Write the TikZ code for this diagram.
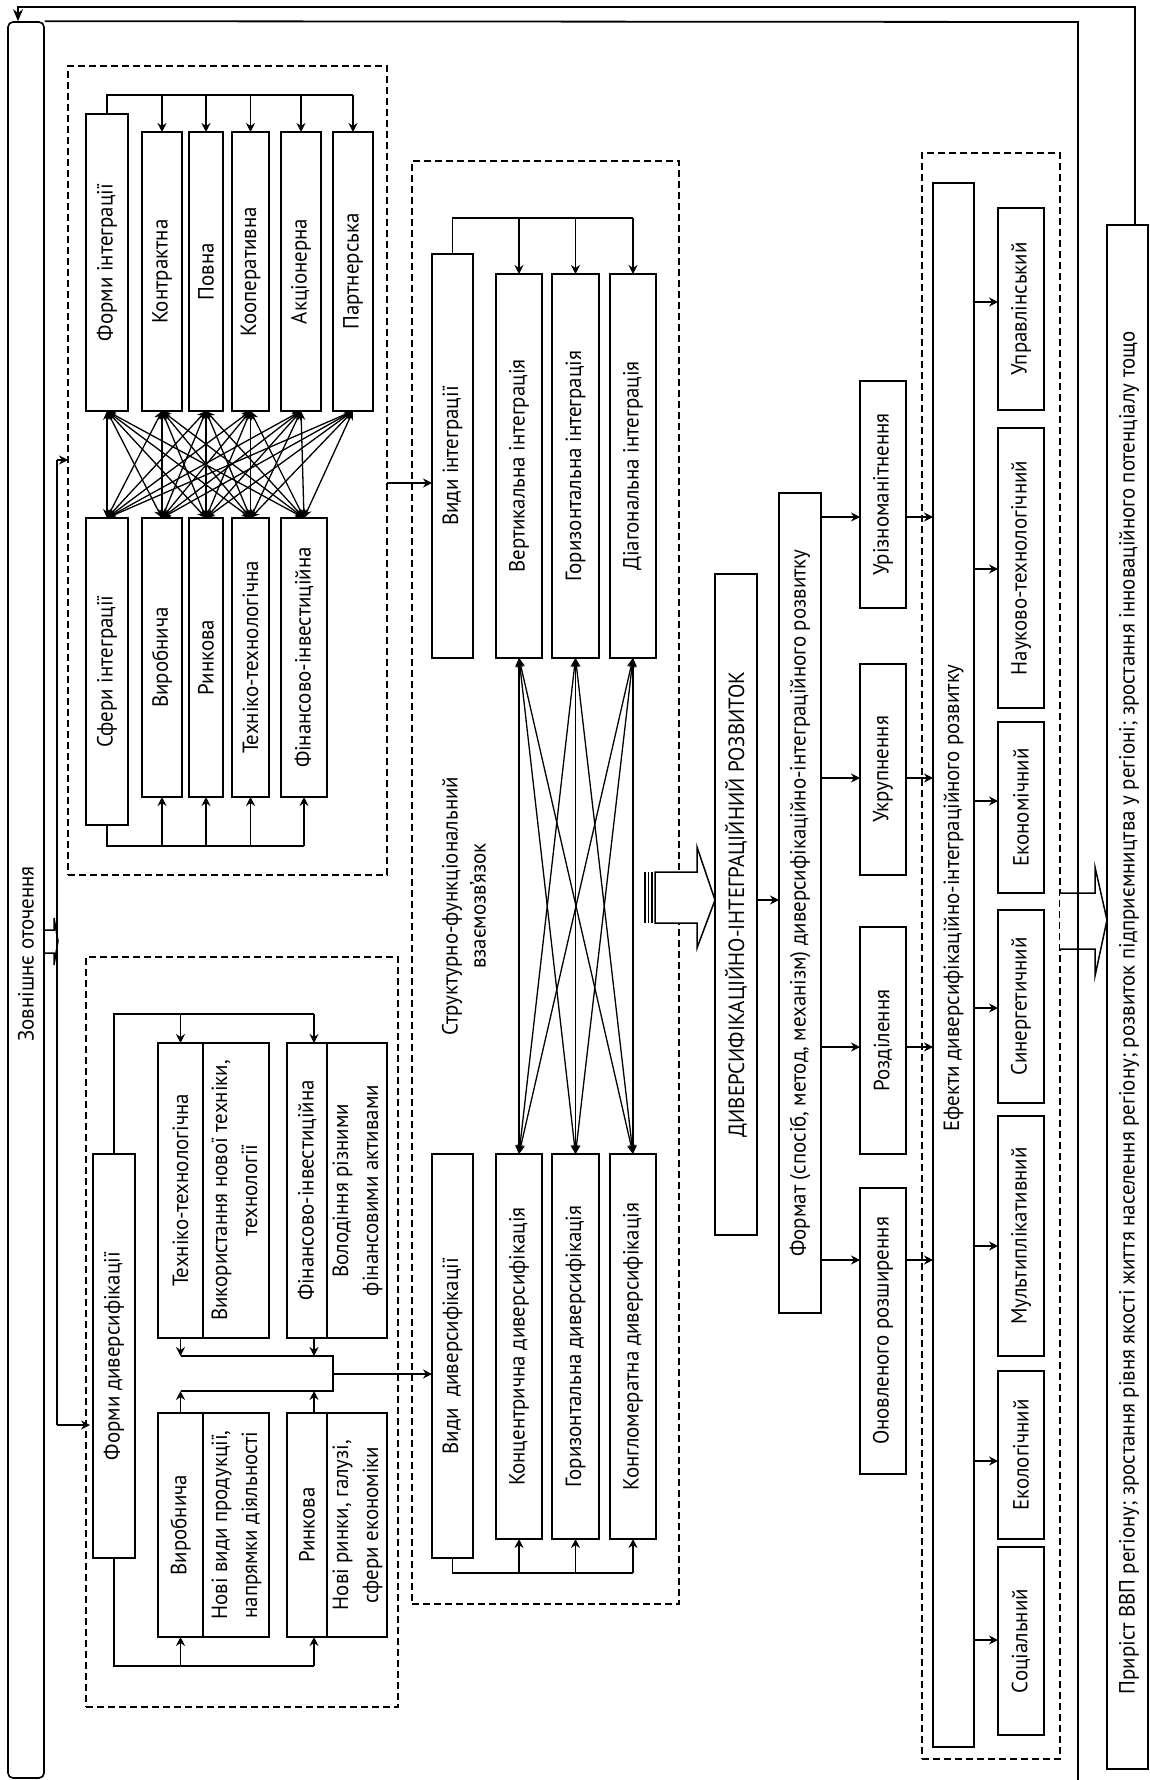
\documentclass[tikz,border=0pt]{standalone}
\usepackage{fontspec}
\setmainfont{PT Sans}[FakeStretch=0.95]
\usetikzlibrary{arrows.meta}
\newcommand{\twol}[2]{\begin{tabular}{@{}c@{}}#1\\#2\end{tabular}}
\newcommand{\mybox}[7][]{\node[box,#1,minimum width={(#5-#3)*1pt},minimum height={(#6-#4)*1pt}] (#2) at ({(#3+#5)/2},{(#4+#6)/2}) {\rotatebox{90}{#7}};}
\begin{document}
\begin{tikzpicture}[x=1pt,y=-1pt,
  font=\fontsize{22}{30}\selectfont,
  box/.style={draw, line width=2.4pt, inner sep=0pt, outer sep=0pt, fill=white},
  dashbox/.style={draw, line width=1.2pt, dash pattern=on 7pt off 4pt, fill=none},
  conn/.style={line width=1.5pt},
  arr/.style={line width=1.5pt, -{Stealth[length=9pt,width=9pt,inset=3pt]}},
  dbl/.style={line width=1.3pt, {Stealth[length=9pt,width=8pt,inset=3pt]}-{Stealth[length=9pt,width=8pt,inset=3pt]}},
  txt/.style={inner sep=0pt}]
\useasboundingbox (0,0) rectangle (1149,1780);

% dashed groups
\mybox[dashbox]{intd}{68}{66}{387}{875}{}
\mybox[dashbox]{divd}{86}{957}{398}{1707}{}
\mybox[dashbox]{sd}{412}{161}{679}{1604}{}
\mybox[dashbox]{ed}{922}{153}{1060}{1759}{}

% outer environment box and frame
\node[draw, line width=1.6pt, rounded corners=5pt, minimum width=36pt, minimum height=1756pt, inner sep=0pt] (zo) at (26,900) {};
\node[txt] (zot) at (26,954) {\rotatebox{90}{Зовнішнє оточення}};
\draw[line width=1.8pt] (zo.north east) -- (1078,22) -- (1078,1782);
\draw[line width=1.5pt] (zo.east |- 0,930) -- (54,930) -- (54,918) -- (58,941) -- (54,965) -- (54,953) -- (zo.east |- 0,953);

% integration group
\mybox{fi}{86}{114}{128}{411}{Форми інтеграції}
\mybox{kon}{142}{132}{182}{411}{Контрактна}
\mybox{pov}{189}{132}{223}{411}{Повна}
\mybox{koop}{232}{132}{269}{411}{Кооперативна}
\mybox{akc}{281}{132}{321}{411}{Акціонерна}
\mybox{par}{333}{132}{373}{411}{Партнерська}
\mybox{sf}{86}{518}{128}{825}{Сфери інтеграції}
\mybox{vy}{142}{518}{182}{797}{Виробнича}
\mybox{ry}{189}{518}{223}{797}{Ринкова}
\mybox{tt}{232}{518}{269}{797}{Техніко-технологічна}
\mybox{fn}{281}{518}{327}{797}{Фінансово-інвестиційна}

\draw[conn] (fi.north) -- (fi.north |- 0,95) -- (par.north |- 0,95);
\foreach \n in {kon,pov,koop,akc,par} \draw[arr] (\n.north |- 0,95) -- (\n.north);
\draw[conn] (sf.south) -- (sf.south |- 0,846) -- (fn.south |- 0,846);
\foreach \n in {vy,ry,tt,fn} \draw[arr] (\n.south |- 0,846) -- (\n.south);
\foreach \a in {fi,kon,pov,koop,akc,par}{\foreach \b in {sf,vy,ry,tt,fn}{\draw[dbl] (\a.south) -- (\b.north);}}

% diversification group
\mybox{fd}{93}{1154}{135}{1558}{Форми диверсифікації}
\mybox{dtl}{158}{1043}{203}{1338}{Техніко-технологічна}
\mybox{dtr}{203}{1043}{269}{1338}{\twol{Використання нової техніки,}{технології}}
\mybox{dfl}{287}{1043}{327}{1338}{Фінансово-інвестиційна}
\mybox{dfr}{327}{1043}{387}{1338}{\twol{Володіння різними}{фінансовими активами}}
\mybox{dvl}{158}{1413}{203}{1637}{Виробнича}
\mybox{dvr}{203}{1413}{269}{1637}{\twol{Нові види продукції,}{напрямки діяльності}}
\mybox{drl}{287}{1413}{327}{1637}{Ринкова}
\mybox{drr}{327}{1413}{387}{1637}{\twol{Нові ринки, галузі,}{сфери економіки}}

\draw[conn] (fd.north) -- (fd.north |- 0,1014) -- ([xshift=7pt]dfl.north |- 0,1014);
\draw[arr] (dtl.north |- 0,1014) -- (dtl.north);
\draw[arr] ([xshift=7pt]dfl.north |- 0,1014) -- ([xshift=7pt]dfl.north);
\draw[conn] (fd.south) -- (fd.south |- 0,1666) -- ([xshift=7pt]drl.south |- 0,1666);
\draw[arr] (dvl.south |- 0,1666) -- (dvl.south);
\draw[arr] ([xshift=7pt]drl.south |- 0,1666) -- ([xshift=7pt]drl.south);

\coordinate (br1) at (333,1356);
\coordinate (br2) at (333,1391);
\coordinate (br3) at (333,1374);
\draw[arr] (dtl.south) -- (dtl.south |- br1);
\draw[arr] ([xshift=7pt]dfl.south) -- ([xshift=7pt]dfl.south |- br1);
\draw[arr] (dvl.north) -- (dvl.north |- br2);
\draw[arr] ([xshift=7pt]drl.north) -- ([xshift=7pt]drl.north |- br2);
\draw[conn] (dtl.south |- br1) -- (br1) -- (br2) -- (dvl.north |- br2);

% left connector from environment
\coordinate (v1) at (57,460);
\coordinate (v2) at (57,1425);
\draw[conn] (v1) -- (v2);
\draw[arr] (v1) -- (intd.west |- v1);
\draw[arr] (v2) -- ([xshift=-3pt]fd.west |- v2);

% middle group
\mybox{vi}{432}{254}{473}{658}{Види інтеграції}
\mybox{ver}{496}{274}{542}{658}{Вертикальна інтеграція}
\mybox{hor}{552}{274}{599}{658}{Горизонтальна інтеграція}
\mybox{dia}{610}{274}{656}{658}{Діагональна інтеграція}
\mybox{vd}{432}{1154}{473}{1558}{Види~ диверсифікації}
\mybox{con}{496}{1154}{542}{1539}{Концентрична диверсифікація}
\mybox{hd}{552}{1154}{599}{1539}{Горизонтальна диверсифікація}
\mybox{kd}{610}{1154}{656}{1539}{Конгломератна диверсифікація}
\node[txt, font=\fontsize{22}{28}\selectfont] (sfz) at (466,906) {\rotatebox{90}{\twol{Структурно-функціональний}{взаємозв’язок}}};

\draw[arr] (intd.east |- 0,483) -- (vi.west |- 0,483);
\draw[arr] (br3) -- (vd.west |- br3);
\draw[conn] (vi.north) -- (vi.north |- 0,218) -- (dia.north |- 0,218);
\foreach \n in {ver,hor,dia} \draw[arr] (\n.north |- 0,218) -- (\n.north);
\draw[conn] (vd.south) -- (vd.south |- 0,1573) -- (kd.south |- 0,1573);
\foreach \n in {con,hd,kd} \draw[arr] (\n.south |- 0,1573) -- (\n.south);
\foreach \a in {ver,hor,dia}{\foreach \b in {con,hd,kd}{\draw[dbl] (\a.south) -- (\b.north);}}

% big arrow 1
\draw[line width=1.5pt, fill=white] (655,872) -- (697,872) -- (697,847) -- (715,900) -- (697,948) -- (697,923) -- (655,923) -- cycle;
\foreach \x in {645,648.5,652} \draw[line width=1.2pt] (\x,872) -- (\x,923);

% development and format
\mybox{dir}{715}{574}{757}{1235}{ДИВЕРСИФІКАЦІЙНО-ІНТЕГРАЦІЙНИЙ РОЗВИТОК}
\mybox{fmt}{779}{493}{821}{1313}{Формат (спосіб, метод, механізм) диверсифікаційно-інтеграційного розвитку}
\draw[arr] (dir.east |- 0,900) -- (fmt.west |- 0,900);

\mybox{ur}{860}{381}{906}{608}{Урізноманітнення}
\mybox{uk}{860}{664}{906}{875}{Укрупнення}
\mybox{rz}{860}{927}{906}{1154}{Розділення}
\mybox{on}{860}{1188}{906}{1474}{Оновленого розширення}

% effects
\mybox{ef}{933}{183}{974}{1747}{}
\node[txt] (eft) at (953.5,898) {\rotatebox{90}{Ефекти диверсифікаційно-інтеграційного розвитку}};
\foreach \n/\yy in {ur/517,uk/778,rz/1047,on/1260}{
  \draw[arr] (fmt.east |- 0,\yy) -- (\n.west |- 0,\yy);
  \draw[arr] (\n.east |- 0,\yy) -- (ef.west |- 0,\yy);
}

\mybox{upr}{998}{208}{1044}{410}{Управлінський}
\mybox{nt}{998}{428}{1044}{708}{Науково-технологічний}
\mybox{ek}{998}{722}{1044}{893}{Економічний}
\mybox{syn}{998}{910}{1044}{1103}{Синергетичний}
\mybox{mul}{998}{1116}{1044}{1356}{Мультиплікативний}
\mybox{eko}{998}{1371}{1044}{1539}{Екологічний}
\mybox{soc}{998}{1547}{1044}{1735}{Соціальний}
\foreach \n/\yy in {upr/302,nt/569,ek/801,syn/1008,mul/1246,eko/1461,soc/1640}
  \draw[arr] (ef.east |- 0,\yy) -- (\n.west |- 0,\yy);

% big arrow 2
\draw[line width=1.5pt, fill=white] (1060,893) -- (1095,893) -- (1095,867) -- (1107,920) -- (1095,976) -- (1095,949) -- (1060,949);
\draw[line width=1.8pt] (1078,880) -- (1078,960);

% result
\mybox{pr}{1107}{225}{1148}{1769}{}
\node[txt] (prt) at (1129,1013) {\rotatebox{90}{Приріст ВВП регіону; зростання рівня якості життя населення регіону; розвиток підприємництва у регіоні; зростання інноваційного потенціалу тощо}};

% feedback
\draw[line width=1.5pt, -{Stealth[length=12pt,width=10pt]}] (pr.north -| 1135,0) -- (1135,7) -- (18,7) -- (zo.north -| 18,0);
\end{tikzpicture}
\end{document}
